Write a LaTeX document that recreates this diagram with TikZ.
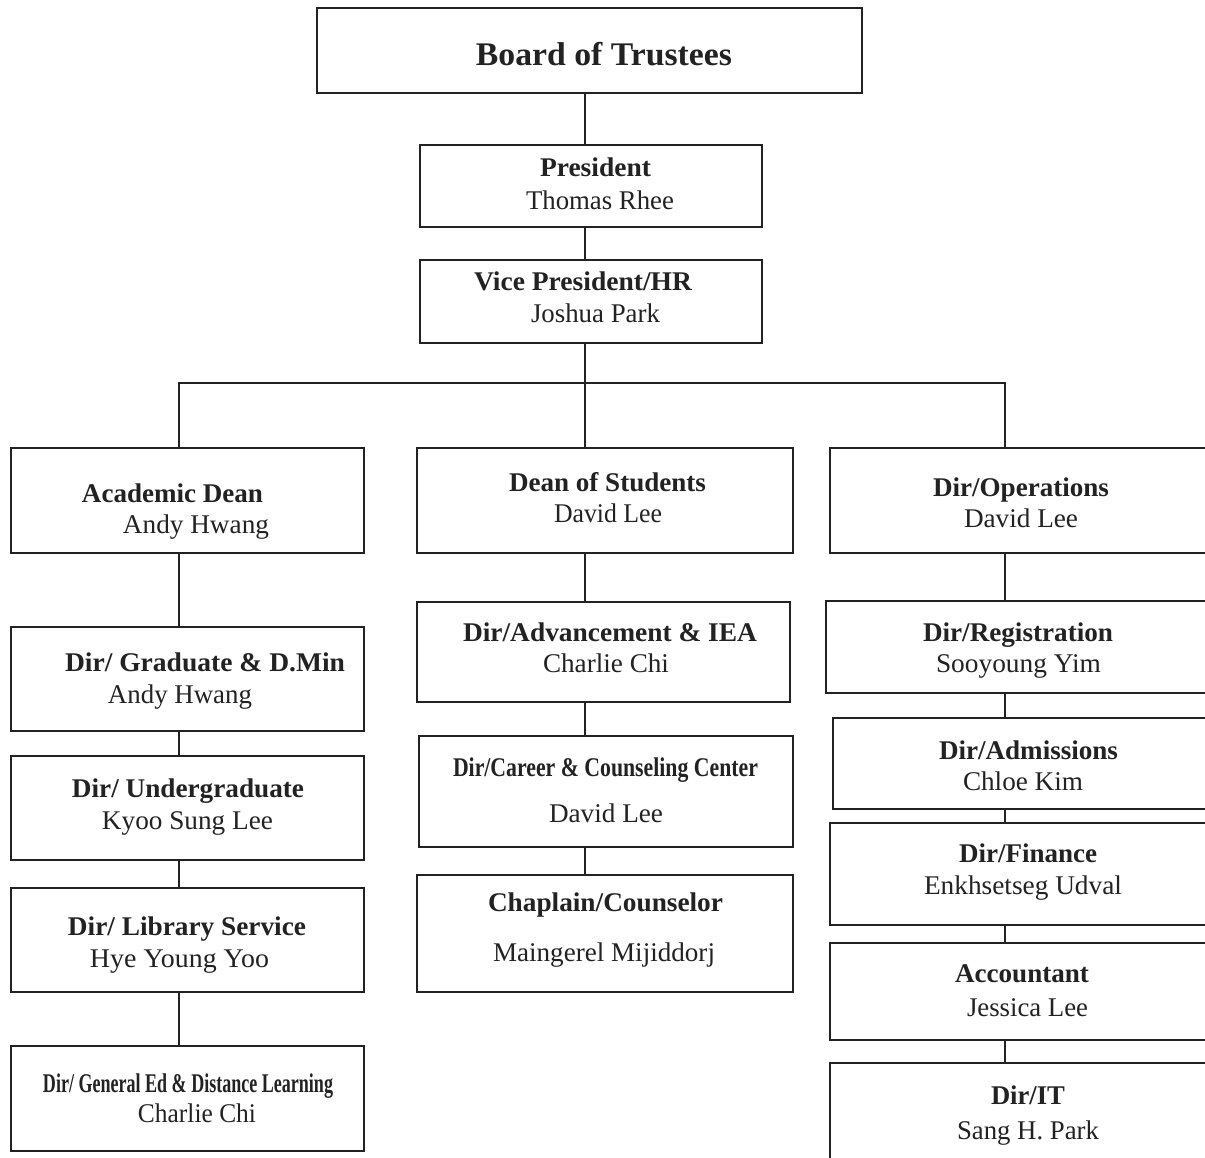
\documentclass[tikz,border=0pt]{standalone}
\usepackage{fontspec}
\setmainfont{Liberation Serif}
\usepackage{graphicx}
\definecolor{ink}{HTML}{222222}
\newcommand{\sqz}[2]{\resizebox{#1pt}{\height}{#2}}
\begin{document}
\begin{tikzpicture}[x=1pt,y=-1pt,
  box/.style={draw=ink,line width=1.8pt,inner sep=0pt,outer sep=0pt,fill=white},
  lbl/.style={text=ink,inner sep=0pt,anchor=mid,yshift=-7pt,font=\fontsize{27}{32}\selectfont},
  hd/.style={lbl,font=\fontsize{27}{32}\selectfont\bfseries},
  wire/.style={draw=ink,line width=1.8pt}]
\useasboundingbox (0,0) rectangle (1205,1158);
\fill[white] (0,0) rectangle (1205,1158);
\clip (0,0) rectangle (1205,1158);
% spine coordinates
\coordinate (cx) at (585,0);
\coordinate (lx) at (179,0);
\coordinate (rx) at (1005,0);
\coordinate (busy) at (0,383);
% boxes
\node[box,minimum width=545pt,minimum height=85pt] (board) at (589.5,50.5) {};
\node[box,minimum width=342pt,minimum height=82pt] (pres) at (591,186) {};
\node[box,minimum width=342pt,minimum height=83pt] (vp) at (591,301.5) {};
\node[box,minimum width=353pt,minimum height=105pt] (acad) at (187.5,500.5) {};
\node[box,minimum width=376pt,minimum height=105pt] (dos) at (605,500.5) {};
\node[box,minimum width=385pt,minimum height=105pt] (dops) at (1022.5,500.5) {};
\node[box,minimum width=353pt,minimum height=104pt] (grad) at (187.5,679) {};
\node[box,minimum width=353pt,minimum height=104pt] (ugrad) at (187.5,808) {};
\node[box,minimum width=353pt,minimum height=104pt] (lib) at (187.5,940) {};
\node[box,minimum width=353pt,minimum height=105pt] (gened) at (187.5,1098.5) {};
\node[box,minimum width=373pt,minimum height=100pt] (adv) at (603.5,652) {};
\node[box,minimum width=374pt,minimum height=111pt] (career) at (606,791.5) {};
\node[box,minimum width=376pt,minimum height=117pt] (chap) at (605,933.5) {};
\node[box,minimum width=389pt,minimum height=92pt] (reg) at (1020.5,647) {};
\node[box,minimum width=382pt,minimum height=91pt] (adm) at (1024,763.5) {};
\node[box,minimum width=385pt,minimum height=102pt] (fin) at (1022.5,874) {};
\node[box,minimum width=385pt,minimum height=97pt] (acct) at (1022.5,991.5) {};
\node[box,minimum width=385pt,minimum height=107pt] (it) at (1022.5,1116.5) {};
% connectors
\draw[wire] (board.south -| cx) -- (pres.north -| cx);
\draw[wire] (pres.south -| cx) -- (vp.north -| cx);
\draw[wire] (vp.south -| cx) -- (dos.north -| cx);
\draw[wire] (acad.north -| lx) -- (lx |- busy) -- (rx |- busy) -- (dops.north -| rx);
\draw[wire] (acad.south -| lx) -- (grad.north -| lx);
\draw[wire] (grad.south -| lx) -- (ugrad.north -| lx);
\draw[wire] (ugrad.south -| lx) -- (lib.north -| lx);
\draw[wire] (lib.south -| lx) -- (gened.north -| lx);
\draw[wire] (dos.south -| cx) -- (adv.north -| cx);
\draw[wire] (adv.south -| cx) -- (career.north -| cx);
\draw[wire] (career.south -| cx) -- (chap.north -| cx);
\draw[wire] (dops.south -| rx) -- (reg.north -| rx);
\draw[wire] (reg.south -| rx) -- (adm.north -| rx);
\draw[wire] (adm.south -| rx) -- (fin.north -| rx);
\draw[wire] (fin.south -| rx) -- (acct.north -| rx);
\draw[wire] (acct.south -| rx) -- (it.north -| rx);
% texts
\node[lbl,yshift=-2pt,font=\fontsize{33}{38}\selectfont\bfseries] (board-a) at (604,54) {\sqz{256}{Board of Trustees}};
\node[hd] (pres-a) at (595.5,167) {\sqz{111}{President}};
\node[lbl] (pres-b) at (600,200) {\sqz{148}{Thomas Rhee}};
\node[hd] (vp-a) at (583,281) {\sqz{218}{Vice President/HR}};
\node[lbl] (vp-b) at (595.5,313) {\sqz{129}{Joshua Park}};
\node[hd] (acad-a) at (172.5,493) {\sqz{181}{Academic Dean}};
\node[lbl] (acad-b) at (196,524) {\sqz{146}{Andy Hwang}};
\node[hd] (dos-a) at (607.5,482) {\sqz{197}{Dean of Students}};
\node[lbl] (dos-b) at (608,513) {\sqz{108}{David Lee}};
\node[hd] (dops-a) at (1021,487) {\sqz{176}{Dir/Operations}};
\node[lbl] (dops-b) at (1021,518) {\sqz{114}{David Lee}};
\node[hd] (grad-a) at (205,662) {\sqz{280}{Dir/ Graduate \& D.Min}};
\node[lbl] (grad-b) at (180,694) {\sqz{144}{Andy Hwang}};
\node[hd] (ugrad-a) at (188,788) {\sqz{232}{Dir/ Undergraduate}};
\node[lbl] (ugrad-b) at (187.5,820) {\sqz{171}{Kyoo Sung Lee}};
\node[hd] (lib-a) at (187,926) {\sqz{238}{Dir/ Library Service}};
\node[lbl] (lib-b) at (179.5,958) {\sqz{179}{Hye Young Yoo}};
\node[hd] (gened-a) at (188,1083) {\sqz{290}{Dir/ General Ed \& Distance Learning}};
\node[lbl] (gened-b) at (197,1113) {\sqz{118}{Charlie Chi}};
\node[hd] (adv-a) at (610,632) {\sqz{294}{Dir/Advancement \& IEA}};
\node[lbl] (adv-b) at (606,663) {\sqz{126}{Charlie Chi}};
\node[hd] (career-a) at (605.5,767) {\sqz{305}{Dir/Career \& Counseling Center}};
\node[lbl] (career-b) at (606,813) {\sqz{114}{David Lee}};
\node[hd] (chap-a) at (605.5,902) {\sqz{235}{Chaplain/Counselor}};
\node[lbl] (chap-b) at (604,952) {\sqz{222}{Maingerel Mijiddorj}};
\node[hd] (reg-a) at (1018,632) {\sqz{190}{Dir/Registration}};
\node[lbl] (reg-b) at (1018.5,663) {\sqz{165}{Sooyoung Yim}};
\node[hd] (adm-a) at (1028.5,750) {\sqz{179}{Dir/Admissions}};
\node[lbl] (adm-b) at (1023,781) {\sqz{120}{Chloe Kim}};
\node[hd] (fin-a) at (1028,853) {\sqz{138}{Dir/Finance}};
\node[lbl] (fin-b) at (1023,885) {\sqz{198}{Enkhsetseg Udval}};
\node[hd] (acct-a) at (1022,973) {\sqz{134}{Accountant}};
\node[lbl] (acct-b) at (1027.5,1007) {\sqz{121}{Jessica Lee}};
\node[hd] (it-a) at (1028,1095) {\sqz{74}{Dir/IT}};
\node[lbl] (it-b) at (1028,1130) {\sqz{142}{Sang H. Park}};
\end{tikzpicture}
\end{document}
